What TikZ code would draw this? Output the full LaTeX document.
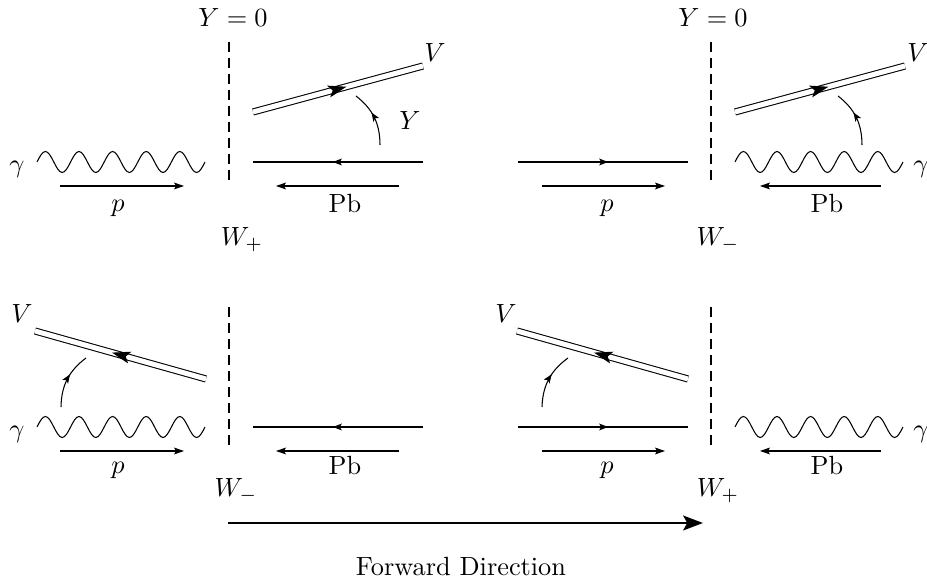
\documentclass[tikz,border=0pt]{standalone}
\usetikzlibrary{arrows.meta,decorations.markings}
\begin{document}
\begin{tikzpicture}[x=0.38pt,y=-0.38pt,
  line width=0.4pt,
  smallarrow/.style={postaction={decorate},decoration={markings,mark=at position #1 with {\arrow{Stealth[length=3.4pt,width=2.6pt,inset=0.8pt]}}}},
  bigarrow/.style={postaction={decorate},decoration={markings,mark=at position #1 with {\arrow{Stealth[length=7pt,width=4.6pt,inset=1.6pt]}}}},
  momentum/.style={-{Stealth[length=3.8pt,width=2.6pt,inset=0.8pt]}},
  vector/.style={double,double distance=1.9pt},
  cut/.style={dash pattern=on 3.8pt off 2.3pt},
  lbl/.style={anchor=base,inner sep=0pt,font=\normalsize}
]
\useasboundingbox (0,0) rectangle (927,584);

% ---------- coordinates ----------
% panel 1 (top left)
\coordinate (g1) at (37,162);
\coordinate (d1t) at (229,42);  \coordinate (d1b) at (229,185);
\coordinate (f1a) at (423,162); \coordinate (f1b) at (253,162);
\coordinate (p1a) at (60,186);  \coordinate (p1b) at (184,186);
\coordinate (b1a) at (399,186); \coordinate (b1b) at (276,186);
\coordinate (v1a) at (253,112); \coordinate (v1b) at (423,66);
\coordinate (c1a) at (380,145); \coordinate (c1b) at (356,96);
% panel 2 (top right)
\coordinate (g2) at (735,162);
\coordinate (d2t) at (711,42);  \coordinate (d2b) at (711,185);
\coordinate (f2a) at (518,162); \coordinate (f2b) at (688,162);
\coordinate (p2a) at (542,186); \coordinate (p2b) at (665,186);
\coordinate (b2a) at (881,186); \coordinate (b2b) at (760,186);
\coordinate (v2a) at (735,112); \coordinate (v2b) at (905,66);
\coordinate (c2a) at (862,145); \coordinate (c2b) at (838,96);
% panel 3 (bottom left)
\coordinate (g3) at (37,427);
\coordinate (d3t) at (229,307); \coordinate (d3b) at (229,450);
\coordinate (f3a) at (423,427); \coordinate (f3b) at (253,427);
\coordinate (p3a) at (60,451);  \coordinate (p3b) at (184,451);
\coordinate (b3a) at (399,451); \coordinate (b3b) at (276,451);
\coordinate (v3a) at (206,379); \coordinate (v3b) at (35,331);
\coordinate (c3a) at (61,407);  \coordinate (c3b) at (86,358);
% panel 4 (bottom right)
\coordinate (g4) at (735,427);
\coordinate (d4t) at (711,307); \coordinate (d4b) at (711,450);
\coordinate (f4a) at (518,427); \coordinate (f4b) at (688,427);
\coordinate (p4a) at (542,451); \coordinate (p4b) at (665,451);
\coordinate (b4a) at (881,451); \coordinate (b4b) at (760,451);
\coordinate (v4a) at (688,379); \coordinate (v4b) at (517,331);
\coordinate (c4a) at (542,407); \coordinate (c4b) at (568,358);
% forward arrow
\coordinate (fw1) at (228,523); \coordinate (fw2) at (703,523);

% ---------- photons (5 full sine periods) ----------
\foreach \g in {g1,g2,g3,g4}
  \draw (\g) \foreach \k in {1,...,5} {
      sin ++(8.4,-10.5) cos ++(8.4,10.5) sin ++(8.4,10.5) cos ++(8.4,-10.5)};

% ---------- cuts ----------
\foreach \i in {1,2,3,4}
  \draw[cut] (d\i t) -- (d\i b);

% ---------- fermion lines ----------
\draw[smallarrow=0.53] (f1a) -- (f1b);
\draw[smallarrow=0.53] (f2a) -- (f2b);
\draw[smallarrow=0.53] (f3a) -- (f3b);
\draw[smallarrow=0.53] (f4a) -- (f4b);

% ---------- momentum arrows ----------
\foreach \i in {1,2,3,4}{
  \draw[momentum] (p\i a) -- (p\i b);
  \draw[momentum] (b\i a) -- (b\i b);
}

% ---------- vector mesons ----------
\foreach \i in {1,2,3,4}{
  \draw[vector] (v\i a) -- (v\i b);
  \path[bigarrow=0.55] (v\i a) -- (v\i b);
}

% ---------- rapidity arrows ----------
\draw[smallarrow=0.6] (c1a) to[bend right=26] (c1b);
\draw[smallarrow=0.6] (c2a) to[bend right=26] (c2b);
\draw[smallarrow=0.6] (c3a) to[bend left=26] (c3b);
\draw[smallarrow=0.6] (c4a) to[bend left=26] (c4b);

% ---------- forward direction ----------
\draw[line width=1.1pt,-{Stealth[length=7.5pt,width=5.6pt,inset=1.5pt]}] (fw1) -- (fw2);
\node[lbl] (fwd) at (461,576) {Forward Direction};

% ---------- labels ----------
\node[lbl] (y1) at (233,27) {$Y=0$};
\node[lbl] (y2) at (713,27) {$Y=0$};
\node[lbl] (w1) at (242,246) {$W_+$};
\node[lbl] (w2) at (718,246) {$W_-$};
\node[lbl] (w3) at (236,497) {$W_-$};
\node[lbl] (w4) at (718,497) {$W_+$};
\node[lbl] (gm1) at (17,173) {$\gamma$};
\node[lbl] (gm2) at (921,173) {$\gamma$};
\node[lbl] (gm3) at (17,438) {$\gamma$};
\node[lbl] (gm4) at (921,438) {$\gamma$};
\node[lbl] (pl1) at (118,212) {$p$};
\node[lbl] (pl2) at (607,212) {$p$};
\node[lbl] (pl3) at (118,474) {$p$};
\node[lbl] (pl4) at (607,474) {$p$};
\node[lbl] (pb1) at (345,213) {Pb};
\node[lbl] (pb2) at (827,213) {Pb};
\node[lbl] (pb3) at (345,475) {Pb};
\node[lbl] (pb4) at (827,475) {Pb};
\node[lbl] (vl1) at (435,62) {$V$};
\node[lbl] (vl2) at (918,62) {$V$};
\node[lbl] (vl3) at (22,323) {$V$};
\node[lbl] (vl4) at (506,323) {$V$};
\node[lbl] (yl1) at (410,130) {$Y$};
\end{tikzpicture}
\end{document}
